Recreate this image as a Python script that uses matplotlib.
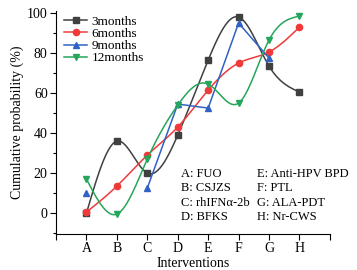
import numpy as np
import matplotlib
matplotlib.use('Agg')
import matplotlib.pyplot as plt
from matplotlib.ticker import MultipleLocator

plt.rcParams['font.family'] = ['Liberation Serif', 'DejaVu Serif']

categories = ['A', 'B', 'C', 'D', 'E', 'F', 'G', 'H']
m3 = [0, 36, 20, 39, 76.5, 98, 73.5, 60.5]
m6 = [0.5, 13.5, 29, 43, 61.5, 75, 80.5, 93]
m9 = [10, np.nan, 12.5, 54.5, 52.5, 95, 77.5, np.nan]
m12 = [17, -0.5, 27, 54, 64.5, 55, 86.5, 98.5]
notes_left = ['A: FUO', 'B: CSJZS', 'C: rhIFN\u03b1-2b', 'D: BFKS']
notes_right = ['E: Anti-HPV BPD', 'F: PTL', 'G: ALA-PDT', 'H: Nr-CWS']


def spline(x, y, n=200):
    # natural cubic spline through the points
    x = np.asarray(x, float)
    y = np.asarray(y, float)
    k = len(x)
    h = np.diff(x)
    A = np.zeros((k, k))
    b = np.zeros(k)
    A[0, 0] = A[-1, -1] = 1
    for i in range(1, k - 1):
        A[i, i - 1] = h[i - 1]
        A[i, i] = 2 * (h[i - 1] + h[i])
        A[i, i + 1] = h[i]
        b[i] = 6 * ((y[i + 1] - y[i]) / h[i] - (y[i] - y[i - 1]) / h[i - 1])
    M = np.linalg.solve(A, b)
    xs = np.linspace(x[0], x[-1], n)
    idx = np.clip(np.searchsorted(x, xs) - 1, 0, k - 2)
    x0, x1 = x[idx], x[idx + 1]
    hh = x1 - x0
    t0, t1 = x1 - xs, xs - x0
    ys = (M[idx] * t0 ** 3 + M[idx + 1] * t1 ** 3) / (6 * hh) \
        + (y[idx] / hh - M[idx] * hh / 6) * t0 + (y[idx + 1] / hh - M[idx + 1] * hh / 6) * t1
    return xs, ys


xpos = np.arange(1, len(categories) + 1)

fig = plt.figure(figsize=(3.57, 2.70), dpi=100)
ax = fig.add_axes([0.157, 0.133, 0.767, 0.826])

series = [
    ('3months', m3, '#404040', 's', True),
    ('6months', m6, '#f03a3a', 'o', True),
    ('9months', m9, '#2f62c4', '^', False),
    ('12months', m12, '#25a65a', 'v', True),
]
for name, vals, col, mk, smooth in series:
    vals = np.asarray(vals, float)
    ok = ~np.isnan(vals)
    if smooth:
        xs, ys = spline(xpos[ok], vals[ok])
        ax.plot(xs, ys, color=col, lw=1.1)
    else:
        # straight segments, only between consecutive points
        ax.plot(xpos, vals, color=col, lw=1.1)
    ax.plot(xpos[ok], vals[ok], ls='none', marker=mk, ms=4.5, color=col)
    ax.plot([], [], color=col, marker=mk, ms=4.5, lw=1.1, label=name)

ax.set_xlim(0, 9)
ax.set_ylim(-10.5, 101)
ax.set_xticks(range(0, 10))
ax.set_xticklabels([''] + categories + [''])
ax.yaxis.set_major_locator(MultipleLocator(20))
ax.yaxis.set_minor_locator(MultipleLocator(10))
ax.tick_params(labelsize=10, direction='out', length=4, width=0.8, pad=2)
ax.tick_params(which='minor', length=2, width=0.8)
ax.spines['top'].set_visible(False)
ax.spines['right'].set_visible(False)
ax.set_xlabel('Interventions', fontsize=10, labelpad=1)
ax.set_ylabel('Cumulative probability (%)', fontsize=10, labelpad=2)

ax.legend(loc='upper left', bbox_to_anchor=(0.03, 0.98), frameon=False, fontsize=9.5,
          handlelength=1.75, labelspacing=0.0, borderpad=0.0, borderaxespad=0.0,
          handletextpad=0.3)

ax.text(4.1, 22.5, '\n'.join(notes_left), fontsize=9, va='top', ha='left', linespacing=1.25)
ax.text(6.6, 22.5, '\n'.join(notes_right), fontsize=9, va='top', ha='left', linespacing=1.25)

fig.savefig('out.png', dpi=100)
